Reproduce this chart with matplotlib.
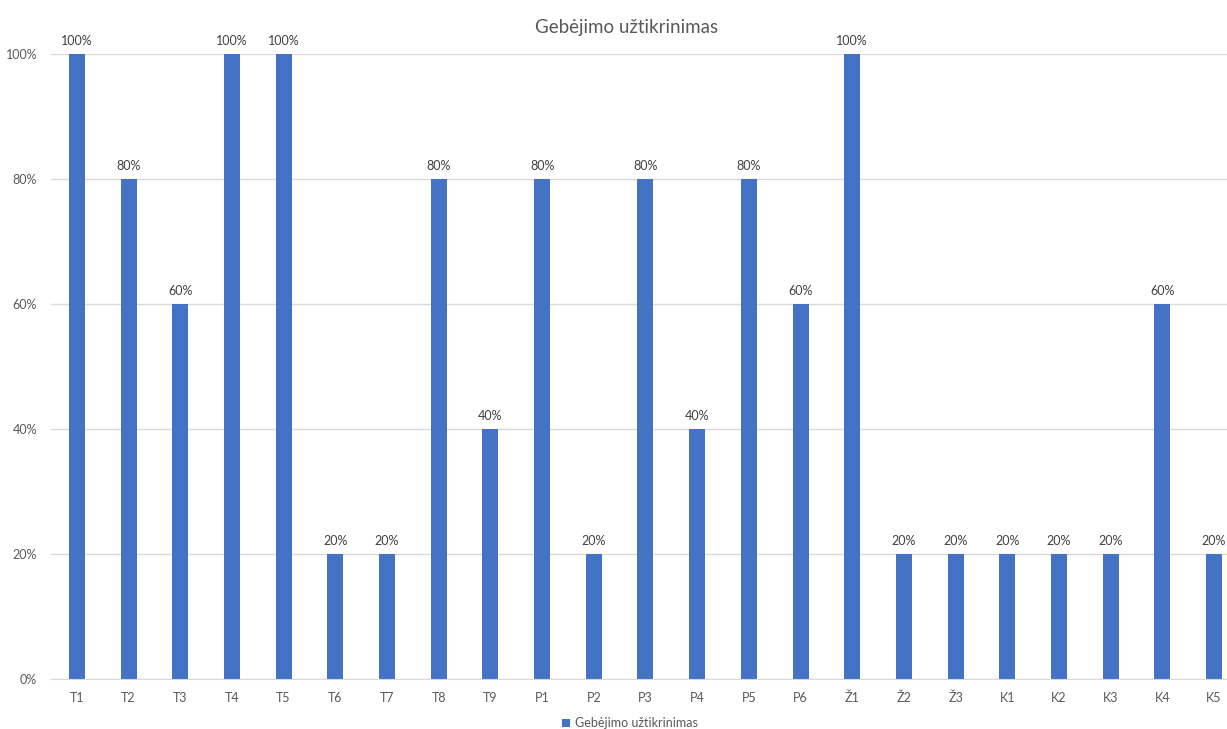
import matplotlib
matplotlib.use("Agg")
import matplotlib.pyplot as plt
from matplotlib.ticker import FuncFormatter

categories = ["T1", "T2", "T3", "T4", "T5", "T6", "T7", "T8", "T9",
              "P1", "P2", "P3", "P4", "P5", "P6",
              "Ž1", "Ž2", "Ž3",
              "K1", "K2", "K3", "K4", "K5"]
values = [100, 80, 60, 100, 100, 20, 20, 80, 40,
          80, 20, 80, 40, 80, 60,
          100, 20, 20,
          20, 20, 20, 60, 20]
series_name = "Gebėjimo užtikrinimas"
title = "Gebėjimo užtikrinimas"
yticks = [0, 20, 40, 60, 80, 100]

plt.rcParams['font.family'] = ['Lato', 'DejaVu Sans']
bar_color = "#4472C4"
text_color = "#595959"
grid_color = "#D9D9D9"

fig = plt.figure(figsize=(12.27, 7.29), dpi=100)
ax = fig.add_axes([51/1227, 1 - 679/729, 1 - 51/1227, (679 - 54)/729])

x = list(range(len(categories)))
bars = ax.bar(x, values, width=0.31, color=bar_color, label=series_name, zorder=3)
for xi, v in zip(x, values):
    ax.text(xi, v + 1.1, f"{v}%", ha="center", va="bottom", fontsize=9, color="#404040")

ax.set_xlim(-0.5, 22.25)
ax.set_ylim(0, 100)
ax.set_yticks(yticks)
ax.yaxis.set_major_formatter(FuncFormatter(lambda v, p: f"{int(v)}%"))
ax.set_xticks(x)
ax.set_xticklabels(categories)
ax.tick_params(axis="both", length=0, labelsize=9, colors=text_color)
ax.tick_params(axis="x", pad=9)
ax.tick_params(axis="y", pad=10)
ax.grid(axis="y", color=grid_color, linewidth=1, zorder=0)
for s in ["top", "right", "left"]:
    ax.spines[s].set_visible(False)
ax.spines["bottom"].set_color(grid_color)
ax.spines["bottom"].set_zorder(4)

fig.text(627/1227, 1 - 27/729, title, ha="center", va="center", fontsize=13.5, color=text_color)

fig.legend(handles=[bars], labels=[series_name], loc="center", bbox_to_anchor=(630/1227, 1 - 723/729),
           frameon=False, fontsize=9, labelcolor=text_color, handlelength=0.6, handleheight=0.6,
           handletextpad=0.4)

fig.savefig("out.png", dpi=100)
